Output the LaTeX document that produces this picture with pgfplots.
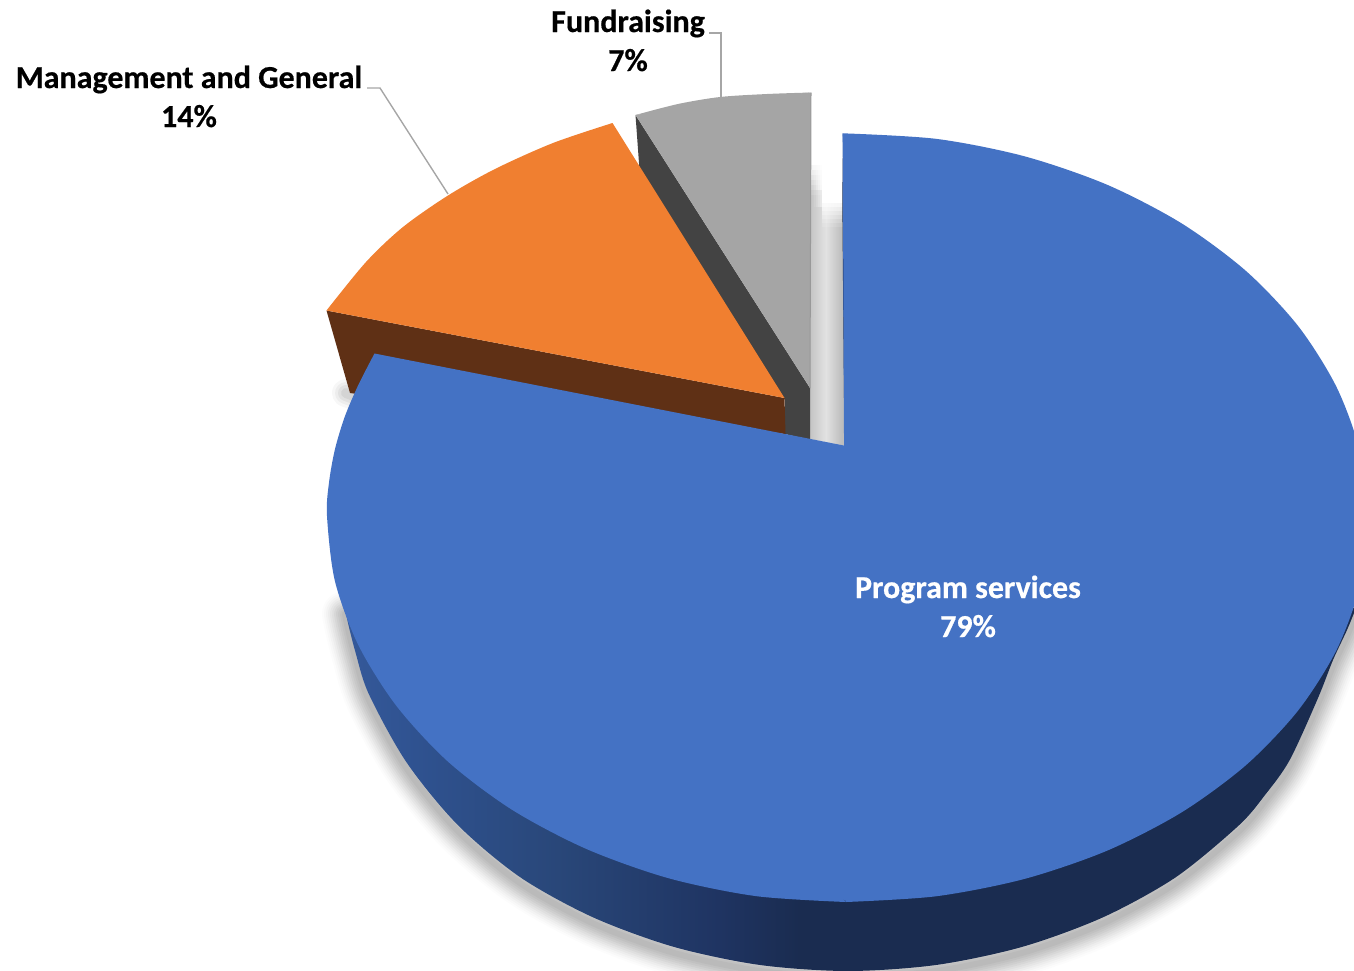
\documentclass[border=0pt]{standalone}
\usepackage{pgfplots}
\usepackage{pgfplotstable}
\usepackage{fontspec}
\setmainfont[BoldFeatures={FakeBold=0.5}]{Carlito}
\pgfplotsset{compat=1.18}

\definecolor{progblue}{HTML}{4472C4}
\definecolor{mgmtorange}{HTML}{F07F30}
\definecolor{fundgray}{HTML}{A5A5A5}
\definecolor{mgmtside}{HTML}{5F3015}
\definecolor{fundside}{HTML}{434343}
\definecolor{progedge}{HTML}{1A2C50}
\definecolor{leader}{HTML}{A6A6A6}
\definecolor{rimA}{HTML}{35599A}
\definecolor{rimB}{HTML}{2F5290}
\definecolor{rimC}{HTML}{294779}
\definecolor{rimD}{HTML}{1F3462}
\definecolor{wallA}{HTML}{C4C4C4}
\definecolor{wallB}{HTML}{E2E2E2}
\definecolor{wallC}{HTML}{BDBDBD}

% side of the large slice, lighter on the left and dark towards the front
\pgfdeclarehorizontalshading{rimgrad}{100bp}{
  color(0bp)=(rimA);
  color(25bp)=(rimA);
  color(28.5bp)=(rimB);
  color(35.5bp)=(rimC);
  color(43.5bp)=(rimD);
  color(47.5bp)=(progedge);
  color(100bp)=(progedge)}
% inner wall seen through the gap between the slices
\pgfdeclarehorizontalshading{wallgrad}{100bp}{
  color(0bp)=(wallA);
  color(25bp)=(wallA);
  color(47bp)=(wallB);
  color(69bp)=(wallC);
  color(100bp)=(wallC)}

% outer rim of the large slice: right part
\pgfplotstableread{
x y
842.7 133.3
936.6 138.9
1024.5 156.3
1107 184.7
1181.5 223.3
1245.9 270.9
1298.1 326
1336.5 387
1360.1 452
1368 519
1360.1 585.5
1336.5 650
1298.1 710.5
1245.9 765.2
1181.5 812.4
1107 850.7
1024.5 878.9
936.6 896.2
846 902
}\progrimright
% outer rim of the large slice: left part
\pgfplotstableread{
x y
846 902
755.9 896.1
668.5 878.2
586.5 849
512.4 810
448.4 762
396.5 706
358.3 645
334.9 581
327 516
329 482.6
334.9 449.5
344.7 416.9
358.3 385
374.5 353.5
}\progrimleft
% lower edge of the slice thickness
\pgfplotstableread{
x y
345 608
348 623
355.4 652
368.8 694
406.3 762
457.3 824.5
520.2 877.2
593 917.3
673.6 946.8
759.4 964.9
848 971
936.6 964.9
1022.4 946.8
1103 917.3
1175.8 877.2
1238.7 825.5
1265 795
1289.7 760
1318 698
1333 660
1347 630
1356 608
}\proglower
\pgfplotstableread{
x y
612.5 123
553 143
495 169
448 195.5
403 227
366 262
326.5 310.5
}\mgmtrim
\pgfplotstableread{
x y
635.5 115
678 104
720 97
767 94
811 92.5
}\fundrim

\newcommand{\softstroke}[3]{%
  \addplot[draw=black, line width=#2pt, draw opacity=#3, line cap=round, line join=round, smooth]
    table[x=x, y expr=\thisrow{y}+6] {#1};}

% translucent white band that lets the wall fade out towards its top
\newcommand{\veil}[5]{%
  \addplot[draw=none, fill=white, fill opacity=#5] coordinates {(#1,#3) (#2,#3) (#2,#4) (#1,#4)} --cycle;}

\begin{document}
\begin{tikzpicture}
\useasboundingbox (0,0) rectangle (1354pt,970pt);
\begin{axis}[
  at={(0,0)}, anchor=south west,
  scale only axis, width=1354pt, height=970pt,
  xmin=0, xmax=1354, ymin=0, ymax=970,
  y dir=reverse, hide axis, clip=true,
]
% soft shadow under the pie
\softstroke{\proglower}{46}{0.012}
\softstroke{\proglower}{42}{0.016}
\softstroke{\proglower}{38}{0.02}
\softstroke{\proglower}{34}{0.024}
\softstroke{\proglower}{30}{0.028}
\softstroke{\proglower}{26}{0.032}
\softstroke{\proglower}{22}{0.036}
\softstroke{\proglower}{18}{0.036}
\softstroke{\proglower}{14}{0.036}
\softstroke{\proglower}{10}{0.036}
\softstroke{\proglower}{6}{0.036}
\addplot[draw=black, line width=28pt, draw opacity=0.03, line cap=round] coordinates {(346,393) (354,396)};
\addplot[draw=black, line width=22pt, draw opacity=0.04, line cap=round] coordinates {(346,393) (354,396)};
\addplot[draw=black, line width=16pt, draw opacity=0.05, line cap=round] coordinates {(346,393) (354,396)};
\addplot[draw=black, line width=10pt, draw opacity=0.06, line cap=round] coordinates {(346,393) (354,396)};

% wall and cast shadow in the gap next to the large slice
\addplot[draw=none, shading=wallgrad] coordinates {(810,155) (846,155) (846,446) (810,439)} --cycle;
% top of the left column
\veil{810}{822}{155}{165}{1}
\veil{810}{822}{165}{170}{0.85}
\veil{810}{822}{170}{175}{0.7}
\veil{810}{822}{175}{180}{0.55}
\veil{810}{822}{180}{185}{0.4}
\veil{810}{822}{185}{190}{0.25}
\veil{810}{822}{190}{195}{0.12}
% left column grows lighter towards the gap
\veil{814}{816}{165}{190}{0.15}
\veil{816}{818}{165}{190}{0.35}
\veil{818}{820}{165}{190}{0.55}
\veil{820}{822}{165}{190}{0.75}
\veil{814}{816}{190}{207}{0.08}
\veil{816}{818}{190}{207}{0.18}
\veil{818}{820}{190}{207}{0.3}
\veil{820}{822}{190}{207}{0.4}
% top of the right column
\veil{822}{846}{155}{203}{1}
\veil{822}{846}{203}{207}{0.85}
\veil{822}{846}{207}{211}{0.7}
\veil{822}{846}{211}{215}{0.55}
\veil{822}{846}{215}{219}{0.4}
\veil{822}{846}{219}{223}{0.25}
\veil{822}{846}{223}{227}{0.12}

% Fundraising slice
\addplot[draw=none, fill=fundside] coordinates {(635.5,115) (639.5,170) (785,400) (785,434) (810,440) (810,388)} --cycle;
\addplot[draw=none, fill=fundgray] coordinates {(635.5,115) (810,388) (811,92.5) (720,100)} --cycle;
\addplot[draw=none, fill=fundgray, smooth] table[x=x,y=y] {\fundrim} --cycle;
\addplot[draw=black!40, line width=1pt] coordinates {(811,92.5) (810,388)};

% Management and General slice
\addplot[draw=none, fill=mgmtside] coordinates {(326.5,310.5) (784.5,398) (785.5,434) (400,400) (350,393)} --cycle;
\addplot[draw=none, fill=mgmtorange] coordinates {(612.5,123) (784.5,398) (326.5,310.5) (460,205)} --cycle;
\addplot[draw=none, fill=mgmtorange, smooth] table[x=x,y=y] {\mgmtrim} --cycle;

% Program services slice: thickness, then the top face
\addplot[draw=none, shading=rimgrad, smooth] table[x=x,y=y] {\proglower} --cycle;
\addplot[draw=none, fill=progedge] coordinates {(842.3,200) (844.4,446) (847,446) (843,133.3)} --cycle;
\addplot[draw=none, fill=progblue] coordinates {(842.7,133.3) (846.5,446) (374.5,353.5) (500,700) (846,901) (1000,500)} --cycle;
\addplot[draw=none, fill=progblue, smooth] table[x=x,y=y] {\progrimright} --cycle;
\addplot[draw=none, fill=progblue, smooth] table[x=x,y=y] {\progrimleft} --cycle;

% leader lines
\addplot[draw=leader, line width=1.4pt] coordinates {(367,88) (380,88) (448,194)};
\addplot[draw=leader, line width=1.4pt] coordinates {(709,33) (721,33) (721,97)};

% data labels
\newcommand{\lab}[4]{\node[anchor=base, inner sep=0pt, text=#3, font=\fontsize{32}{38}\selectfont\bfseries] at (axis cs:#1,#2) {#4};}
\lab{189}{88}{black}{Management and General}
\lab{189}{127}{black}{14\%}
\lab{628}{32}{black}{Fundraising}
\lab{628}{71}{black}{7\%}
\lab{968}{598}{white}{Program services}
\lab{968}{637}{white}{79\%}
\end{axis}
\end{tikzpicture}
\end{document}
